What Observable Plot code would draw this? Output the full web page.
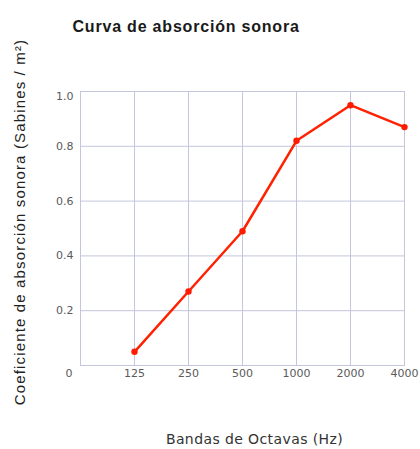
<!DOCTYPE html>
<html>
<head>
<meta charset="utf-8">
<script src="https://cdn.jsdelivr.net/npm/d3@7"></script>
<script src="https://cdn.jsdelivr.net/npm/@observablehq/plot@0.6"></script>
<style>
  html, body { margin: 0; padding: 0; background: #fff; }
  #chart svg { display: block; }
</style>
</head>
<body>
<div id="chart"></div>
<script>
const title = "Curva de absorción sonora";
const xLabel = "Bandas de Octavas (Hz)";
const yLabel = "Coeficiente de absorción sonora (Sabines / m²)";
const bands = ["0", "125", "250", "500", "1000", "2000", "4000"];
const dataBands = ["125", "250", "500", "1000", "2000", "4000"];
const coefficients = [0.05, 0.27, 0.49, 0.82, 0.95, 0.87];
const yTicks = [0.2, 0.4, 0.6, 0.8];

const data = dataBands.map((b, i) => ({band: b, value: coefficients[i]}));
const font = "'Liberation Sans', Arial, sans-serif";
const tickFont = "'DejaVu Sans', sans-serif";
const gridColor = "#c3c6dc";
const tickColor = "#5a5a5a";

const chart = Plot.plot({
  width: 420,
  height: 449,
  marginLeft: 80,
  marginRight: 16,
  marginTop: 91,
  marginBottom: 84,
  style: {fontFamily: font, background: "#fff"},
  x: {type: "point", domain: bands, padding: 0},
  y: {domain: [0, 1]},
  marks: [
    Plot.gridX(bands, {stroke: gridColor, strokeOpacity: 1, strokeWidth: 1}),
    Plot.gridY([0.2, 0.4, 0.6, 0.8, 1.0], {stroke: gridColor, strokeOpacity: 1, strokeWidth: 1}),
    Plot.frame({stroke: gridColor}),
    Plot.axisX(dataBands, {tickSize: 0, tickPadding: 4, fontSize: 11, fontFamily: tickFont, fill: tickColor, label: null}),
    Plot.axisY(yTicks, {tickSize: 0, tickPadding: 7, fontSize: 11, fontFamily: tickFont, fill: tickColor, label: null, tickFormat: d => d.toFixed(1)}),
    Plot.axisY([1.0], {tickSize: 0, tickPadding: 7, fontSize: 11, fontFamily: tickFont, fill: tickColor, label: null, dy: 5, tickFormat: d => d.toFixed(1)}),
    Plot.axisY([0], {tickSize: 0, tickPadding: 8, fontSize: 11, fontFamily: tickFont, fill: tickColor, label: null, dy: 8, tickFormat: d => "0"}),
    Plot.line(data, {x: "band", y: "value", stroke: "#ff2200", strokeWidth: 2.5}),
    Plot.dot(data, {x: "band", y: "value", fill: "#ff1a00", r: 3.2}),
    Plot.text([title], {text: d => d, frameAnchor: "top-left", dx: -8, dy: -71, fontSize: 16, fontWeight: "bold", fill: "#1a1a1a", textAnchor: "start"}),
    Plot.text([xLabel], {text: d => d, frameAnchor: "bottom", dx: 12, dy: 78, fontSize: 14, fontFamily: tickFont, fill: "#333"}),
    Plot.text([yLabel], {text: d => d, frameAnchor: "left", textAnchor: "middle", rotate: -90, dx: -60, dy: -6.5, fontSize: 15, fill: "#222"})
  ]
});
const spacing = new Map([[title, "0.8px"], [xLabel, "0.4px"], [yLabel, "1.15px"]]);
d3.select(chart).selectAll("text").each(function() {
  const s = spacing.get(this.textContent);
  if (s) this.style.letterSpacing = s;
});
document.getElementById("chart").appendChild(chart);
</script>
</body>
</html>
